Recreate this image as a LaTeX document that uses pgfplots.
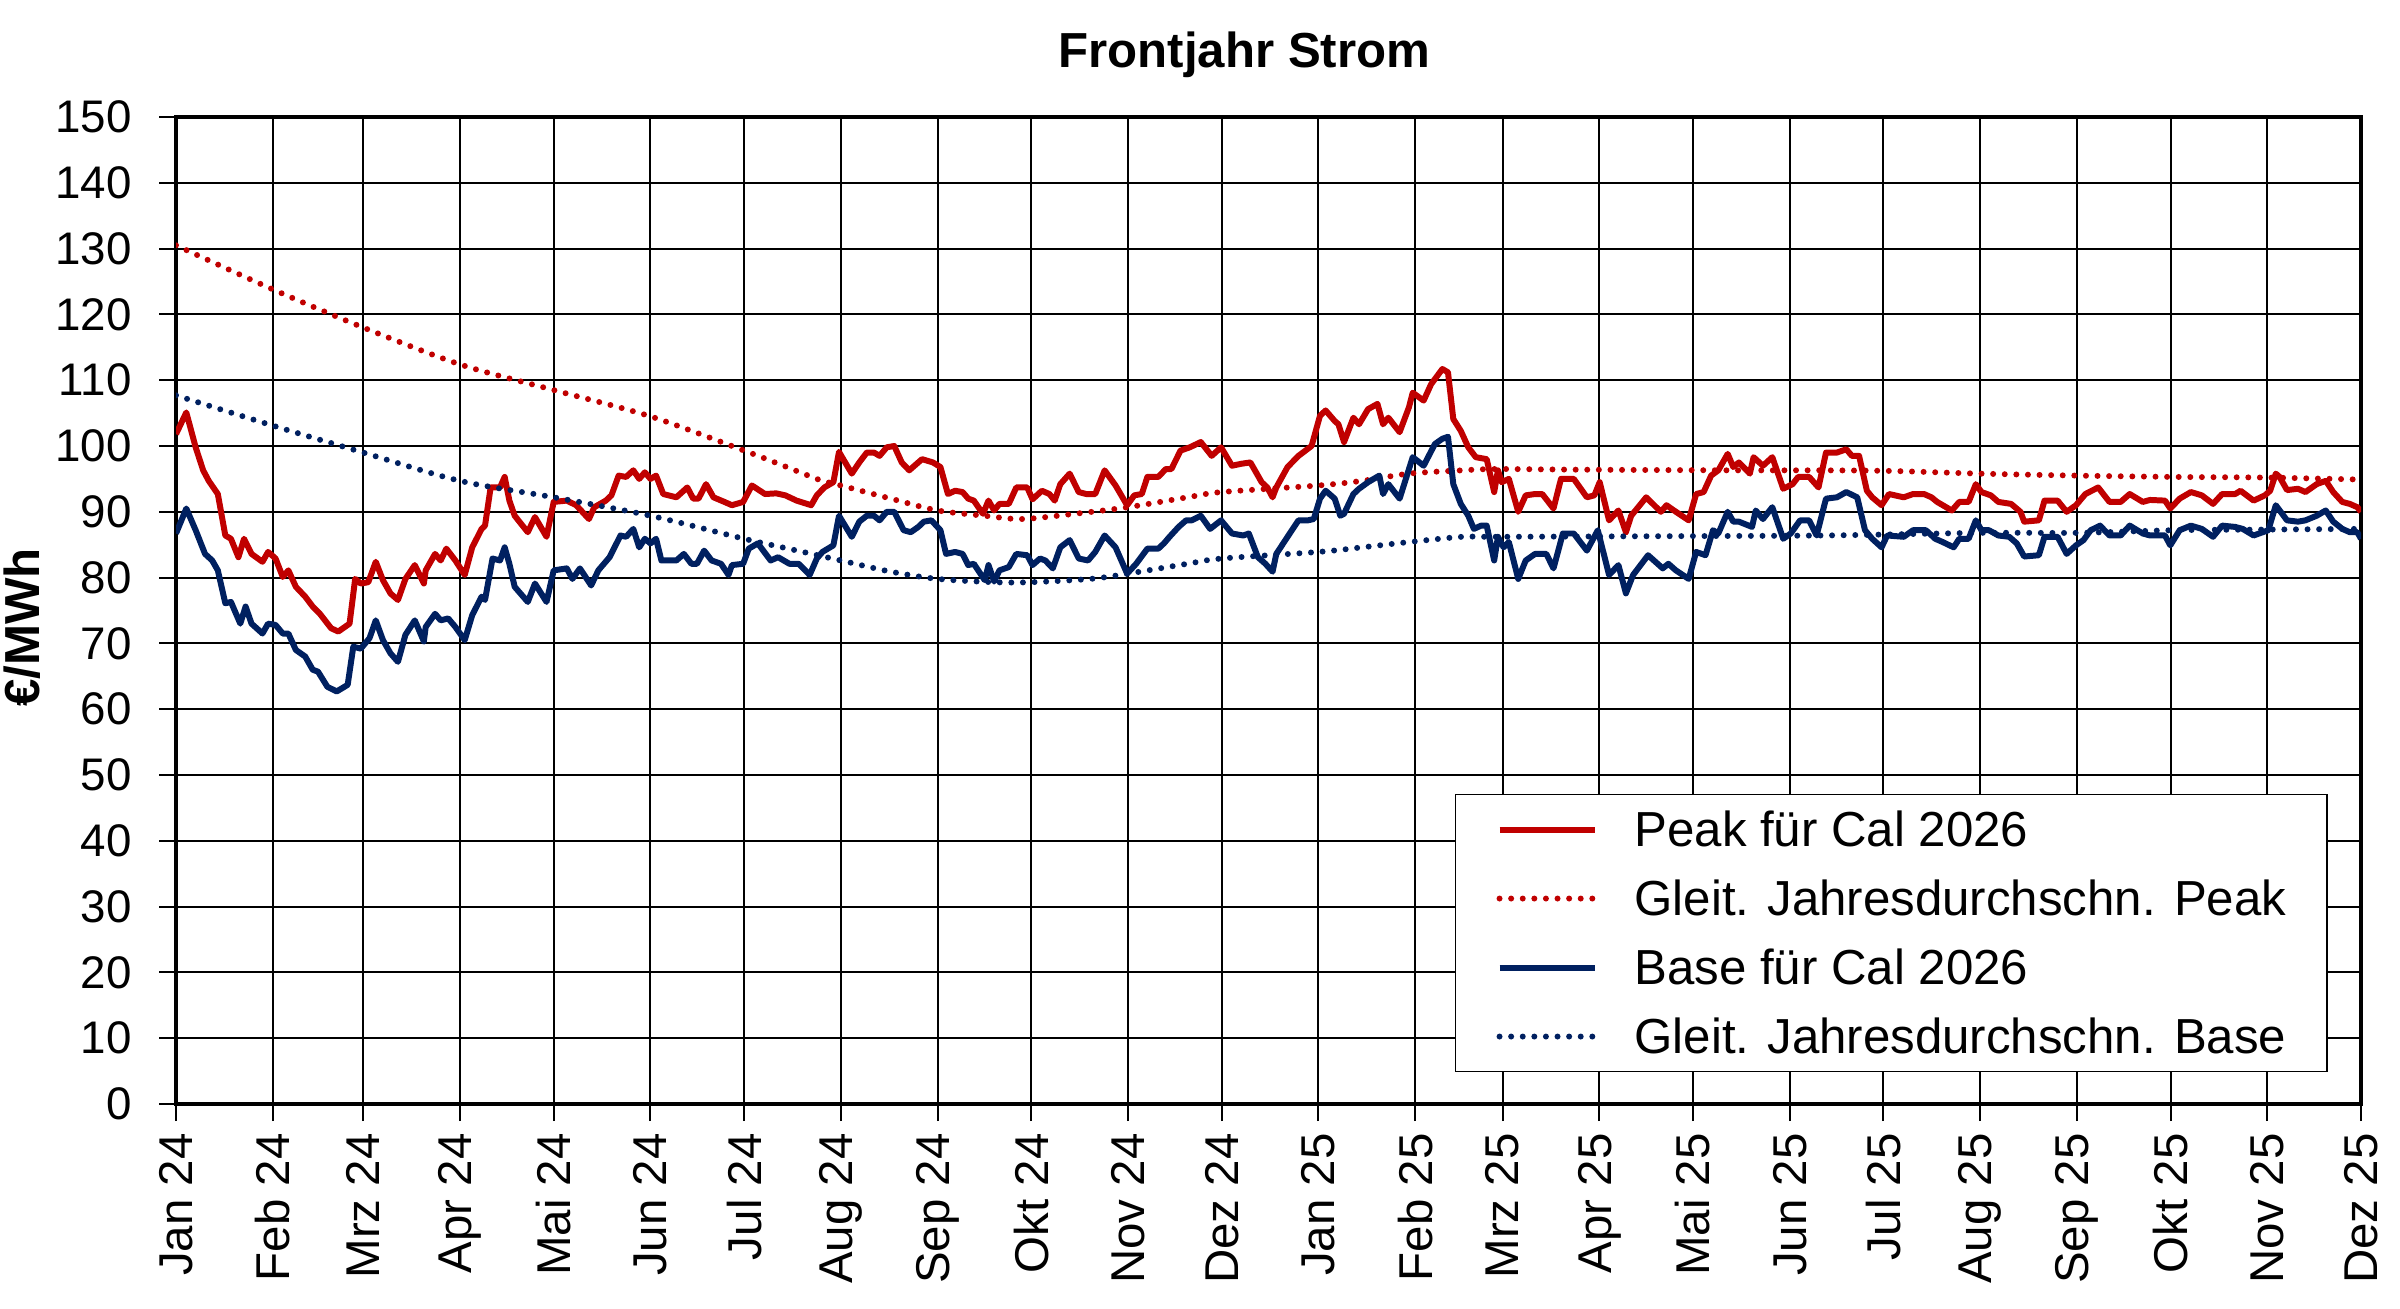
\documentclass[border=0pt]{standalone}
\usepackage{fontspec}
\setmainfont{Liberation Sans}
\usepackage{pgfplots}
\pgfplotsset{compat=1.18}
\definecolor{peakred}{HTML}{C00000}
\definecolor{baseblue}{HTML}{002060}
\begin{document}
\begin{tikzpicture}
\useasboundingbox (0,0) rectangle (24cm,13.08cm);
\begin{axis}[
 at={(1.76cm,2.04cm)}, anchor=south west,
 scale only axis, width=21.85cm, height=9.87cm,
 xmin=0,xmax=700,ymin=0,ymax=150,
 xtick={0,31,60,91,121,152,182,213,244,274,305,335,366,397,425,456,486,517,547,578,609,639,670,700},
 xticklabels={Jan 24,Feb 24,Mrz 24,Apr 24,Mai 24,Jun 24,Jul 24,Aug 24,Sep 24,Okt 24,Nov 24,Dez 24,Jan 25,Feb 25,Mrz 25,Apr 25,Mai 25,Jun 25,Jul 25,Aug 25,Sep 25,Okt 25,Nov 25,Dez 25},
 ytick distance=10,
 grid=major, major grid style={black,line width=0.55pt},
 axis line style={black,line width=1.1pt},
 tick align=outside, tick pos=left, major tick length=0.17cm,
 major tick style={black,line width=0.55pt},
 /pgf/number format/assume math mode=true,
 yticklabel style={font=\fontsize{13}{15}\selectfont, xshift=-0.15cm},
 xticklabel style={font=\fontsize{13.5}{15}\selectfont, rotate=90, anchor=east},
 title={Frontjahr Strom},
 title style={at={(rel axis cs:0.489,1)},anchor=base,yshift=0.28cm,font=\fontsize{14}{16}\selectfont\bfseries},
 ylabel={€/MWh},
 every axis y label/.style={at={(rel axis cs:-0.0703,0.483)},rotate=90,anchor=center,font=\fontsize{14}{16}\selectfont\bfseries},
 legend style={at={(rel axis cs:0.985,0.032)}, anchor=south east, draw=black, line width=0.5pt,
   font=\fontsize{14}{16}\selectfont, inner xsep=0.41cm, inner ysep=0.12cm, row sep=0.23cm, column sep=0.37cm,
   nodes={inner sep=0pt, text height=0.40cm, text depth=0.06cm}},
 legend cell align=left,
 legend image code/.code={\draw[#1] (0cm,0cm) -- (0.95cm,0cm);},
]
\addplot[peakred, line width=1.7pt, line join=round] coordinates {
(0,101.8)(3.3,105.1)(6.3,99.8)(8.7,96.3)(10.5,94.7)(13.4,92.7)(15.8,86.4)(17.6,85.9)(20,83.1)(21.8,85.9)(24.2,83.6)(27.7,82.4)(29.5,83.9)(31.9,82.9)(34.2,80.1)(36,81.1)(38.4,78.6)(41.4,77.1)(43.8,75.6)(46.1,74.5)(49.7,72.3)(52,71.8)(55.6,73.0)(57.4,79.8)(59.2,79.1)(61.6,79.3)(64,82.4)(66.3,79.6)(68.7,77.6)(71.1,76.6)(73.5,79.8)(76.5,81.9)(79.4,79.1)(80,81.1)(83,83.6)(84.8,82.6)(86.6,84.4)(89.5,82.6)(92.5,80.4)(94.9,84.6)(97.9,87.4)(99,87.9)(100.8,93.7)(103.8,93.7)(105.3,95.3)(106.8,91.7)(108.5,89.4)(112.7,86.9)(115,89.2)(118.7,86.2)(121,91.5)(125.2,91.7)(128.2,91.0)(132.3,88.9)(134,90.7)(137.7,91.7)(139.5,92.5)(141.8,95.5)(144.2,95.3)(146.5,96.3)(148.4,95.0)(150.2,96.0)(152,95.0)(153.8,95.5)(156.1,92.7)(160.3,92.2)(163.8,93.7)(165.7,92.0)(167.4,92.0)(169.8,94.2)(172.2,92.2)(175.7,91.5)(178.1,91.0)(181.7,91.5)(184.5,94.0)
(188.7,92.7)(192.3,92.8)(195.2,92.5)(198.8,91.7)(203.5,91.0)(205.3,92.5)(207.7,93.7)(210.6,94.5)(212.4,99.1)(216.5,95.8)(218.9,97.5)(221.3,99.0)(223.6,99.0)(225.4,98.5)(227.7,99.8)(230.1,100.0)(232.5,97.5)(234.9,96.3)(239,98.0)(242.5,97.5)(244.9,96.8)(247.3,92.7)(249.6,93.2)(252,93.0)(253.8,92.0)(255.6,91.7)(258.5,89.7)(260.3,91.7)(262.1,90.2)(263.8,91.2)(266.8,91.2)(269.2,93.7)(272.7,93.7)(274.4,91.9)(277.4,93.2)(279.8,92.7)(281.5,91.7)(283.3,94.2)(286.3,95.8)(289.2,93.0)(291.6,92.7)(294.5,92.7)(297.5,96.3)(301,94.0)(304.7,91.0)(307,92.5)(309.4,92.7)(311.2,95.3)(314.7,95.3)(317.1,96.5)(318.9,96.5)(321.8,99.3)(324.8,99.8)(328.3,100.6)(331.8,98.5)(334.8,99.8)(338.3,97.0)(341.3,97.3)(344.2,97.5)(347.8,94.5)(349.6,93.7)(351.3,92.2)(352.5,93.7)(356.1,96.8)(359.6,98.5)(363.8,100.0)(366.5,104.6)
(368.3,105.4)(371.2,103.8)(372.4,103.3)(374.2,100.6)(377.2,104.3)(379,103.3)(381.9,105.6)(384.9,106.4)(386.7,103.3)(388.4,104.3)(392,102.1)(395,105.9)(396.2,108.1)(399.7,106.9)(402.1,109.4)(405.7,111.7)(407.5,111.2)(409.2,104.1)(411.6,102.3)(414,99.8)(416.4,98.3)(419.9,98.0)(422.3,93.0)(423.5,96.3)(424.7,94.5)(427,95.0)(430,90.0)(432.4,92.5)(435.4,92.7)(437.7,92.7)(441.3,90.5)(443.7,95.0)(447.8,95.0)(452,92.2)(454.4,92.5)(456.1,94.5)(459.1,88.7)(462.1,90.2)(464.5,86.9)(466.2,89.4)(471,92.2)(475.7,90.0)(477.5,91.0)(479.9,90.2)(484.6,88.7)(487,92.7)(489.4,93.0)(491.8,95.5)(494.1,96.3)(497.1,98.8)(498.9,96.8)(500.7,97.5)(504.2,95.8)(505.4,98.3)(508.4,97.0)(511.4,98.3)(514.9,93.5)(517.9,94.2)(519.7,95.3)(523.2,95.3)(526.2,93.7)(528.6,99.0)(532.1,99.0)(535.1,99.5)(536.9,98.5)(539.2,98.5)
(541.7,93.2)(543.4,92.2)(546.4,91.0)(548.8,92.7)(553.5,92.2)(556.5,92.7)(560,92.7)(562.4,92.2)(564.2,91.5)(568.9,90.2)(571.3,91.5)(574.3,91.5)(576.6,94.2)(578.4,93.0)(581.4,92.5)(583.8,91.5)(587.9,91.2)(590.9,90.0)(592.1,88.5)(596.8,88.7)(598.6,91.7)(602.8,91.7)(605.7,90.0)(608.7,91.0)(611.7,92.7)(615.8,93.7)(619.4,91.5)(623,91.5)(625.9,92.7)(630.1,91.5)(632.4,91.8)(637.2,91.7)(638.9,90.5)(641.9,92.0)(645.5,93.0)(649,92.5)(652.6,91.2)(655.5,92.7)(659.7,92.7)(661.4,93.2)(665.6,91.7)(669.2,92.5)(670.9,93.2)(672.7,95.8)(673.9,95.3)(676.3,93.3)(679.8,93.5)(682.2,93.0)(685.8,94.2)(688.7,94.7)(691.1,93.0)(694,91.5)(696.4,91.2)(698.8,90.7)(700,90.0)
};
\addlegendentry{Peak für Cal 2026}
\addplot[peakred, line width=1.7pt, line cap=round, dash pattern=on 0pt off 3.3pt, smooth, tension=0.5] coordinates {
(0,130.5)(31,123.8)(60,118)(91,112.4)(121,108.5)(152,104.5)(182,99.3)(193,97.3)(207,94.7)(213,94.0)(229,92.0)(244,90.2)(259,89.4)(271,88.9)(288,89.7)(305,90.7)(324,92.2)(335,93.0)(366,94.0)(380,94.7)(395,95.8)(412,96.3)(423,96.5)(450,96.4)(500,96.3)(528,96.3)(550,96.2)(578,95.8)(609,95.5)(640,95.3)(670,95.2)(700,94.9)
};
\addlegendentry{Gleit. Jahresdurchschn. Peak}
\addplot[baseblue, line width=1.7pt, line join=round] coordinates {
(0,86.7)(3.3,90.5)(6.3,87.2)(9.3,83.6)(11.6,82.6)(13.4,81.1)(15.8,76.1)(17.6,76.3)(20.6,73.0)(22.3,75.6)(24.2,73.0)(27.7,71.5)(29.5,73.0)(31.9,72.8)(34.2,71.5)(36,71.5)(38.4,69.0)(41.4,68.0)(43.8,66.0)(45.5,65.7)(48.5,63.4)(51.5,62.7)(55,63.7)(56.8,69.5)(59.2,69.2)(62,70.8)(64,73.5)(66.3,70.5)(68.7,68.5)(71.1,67.2)(73.5,71.3)(76.5,73.5)(79.4,70.3)(80,72.5)(83,74.5)(84.8,73.5)(87.2,73.8)(89.5,72.5)(92.5,70.5)(94.9,74.3)(97.9,77.1)(99,76.6)(101.4,82.9)(103.8,82.6)(105.3,84.6)(106.8,82.1)(108.5,78.6)(112.7,76.3)(115,79.1)(118.7,76.3)(121,81.1)(125.2,81.4)(127,79.8)(129.4,81.4)(133,78.8)(135.3,81.1)(138.9,83.1)(142.4,86.4)(144.2,86.2)(146.5,87.4)(148.4,84.6)(150.2,85.9)(152,85.2)(153.8,85.9)(155.5,82.6)(160.3,82.6)(162.7,83.6)(165.1,82.1)(166.9,82.1)(169.2,84.1)(171.6,82.6)(174.6,82.1)(177,80.4)(178.1,81.9)(181.7,82.1)(183.5,84.4)(186.4,85.2)(190.5,82.6)(192.9,83.1)(196.5,82.1)(199.5,82.1)(203,80.4)(205.3,82.9)(207.1,83.9)(210.6,84.9)(212.4,89.4)(216.5,86.2)(218.9,88.5)(221.3,89.4)(223.6,89.4)(225.4,88.7)(227.7,90.0)(230.1,90.0)(233.1,87.2)(235.4,86.9)(237.8,87.7)(239.6,88.5)(242,88.7)(244.9,87.2)(246.7,83.6)(249.6,83.9)(252,83.6)(253.8,81.9)(255.6,82.1)(259.1,79.6)(260.3,81.9)(262.1,79.4)(263.8,81.1)(266.8,81.6)(269.2,83.6)(272.7,83.4)(274.4,81.9)(276.8,82.9)(278.5,82.6)(280.9,81.4)(283.3,84.6)(286.3,85.7)(289.2,82.9)(292.2,82.6)(294.5,83.9)(297.5,86.4)(301,84.6)(304.7,80.6)(307.6,82.1)(311.2,84.4)(314.7,84.4)(316.5,85.2)(318.3,86.2)(321.2,87.7)(323.6,88.7)(325.4,88.7)(328.3,89.4)(331.3,87.4)(334.8,88.7)(338.3,86.7)(341.9,86.4)(343.7,86.7)(346.6,83.1)(349,82.1)(351.3,80.9)(352.5,83.6)(356.1,86.2)(359.6,88.7)(362.6,88.7)(364.5,88.9)(366.5,92.0)(368.3,93.2)(371.2,92.0)(373,89.4)(374.2,89.7)(377.2,92.7)(379,93.5)(381.9,94.5)(385.5,95.5)(386.7,92.7)(388.4,94.2)(392,92.0)(396.2,98.3)(399.7,97.0)(403.3,100.3)(405.7,101.1)(407.5,101.4)(409.2,94.2)(411.6,91.2)(414,89.4)(415.8,87.4)(418.1,87.9)(419.9,87.9)(422.3,82.6)(423.5,86.2)(425.3,84.6)(427,85.4)(430,79.8)(432.4,82.6)(435.4,83.6)(439,83.6)(441.3,81.4)(444.3,86.7)(447.8,86.7)(452,84.1)(455.5,87.2)(459.1,80.4)(462.1,81.9)(464.5,77.6)(466.8,80.4)(471.6,83.4)(476.3,81.4)(478.1,82.1)(480.5,81.1)(484.6,79.8)(487,83.9)(490,83.4)(492.4,87.2)(494.1,86.7)(497.1,90.0)(498.9,88.5)(500.7,88.5)(504.9,87.7)(506.1,90.2)(508.4,88.9)(511.4,90.7)(514.9,85.9)(517.3,86.7)(520.3,88.7)(523.2,88.7)(525.6,86.4)(528.6,92.0)(532.1,92.2)(535.1,93.0)(538.6,92.2)(541.1,87.2)(543.4,85.9)(546.4,84.6)(548.2,86.4)(553.5,86.2)(556.5,87.2)(560.6,87.2)(563.6,85.9)(566,85.4)(569.5,84.6)(571.3,85.9)(574.3,85.9)(576.6,88.7)(578.4,87.2)(580.8,87.2)(583.8,86.4)(587.3,86.2)(589.7,85.2)(592.1,83.2)(596.8,83.4)(598.6,86.2)(602.8,86.2)(605.7,83.6)(608.7,84.9)(611.1,85.7)(613.4,87.2)(616.4,87.9)(619.4,86.4)(623,86.4)(625.9,87.9)(630.1,86.7)(632.4,86.4)(637.2,86.4)(638.9,84.9)(641.9,87.2)(645.5,87.9)(649,87.4)(652.6,86.2)(655.5,87.9)(659.7,87.7)(662.1,87.4)(665.6,86.4)(670.3,87.2)(672.7,91.0)(676.3,88.7)(679.8,88.5)(682.2,88.7)(685.8,89.4)(688.7,90.2)(691.1,88.5)(694,87.4)(696.4,86.9)(698.8,86.9)(700,85.9)
};
\addlegendentry{Base für Cal 2026}
\addplot[baseblue, line width=1.7pt, line cap=round, dash pattern=on 0pt off 3.3pt, smooth, tension=0.5] coordinates {
(0,107.7)(31,103.1)(60,99)(91,94.7)(121,92.2)(152,89.4)(182,85.9)(199,84.1)(213,82.6)(229,80.9)(244,79.8)(262,79.3)(274,79.3)(293,79.8)(305,80.6)(324,82.1)(335,82.9)(366,83.9)(380,84.6)(395,85.4)(412,86.2)(423,86.2)(480,86.3)(528,86.4)(578,86.8)(609,86.8)(640,87.2)(670,87.3)(700,87.4)
};
\addlegendentry{Gleit. Jahresdurchschn. Base}
\end{axis}
\end{tikzpicture}
\end{document}
